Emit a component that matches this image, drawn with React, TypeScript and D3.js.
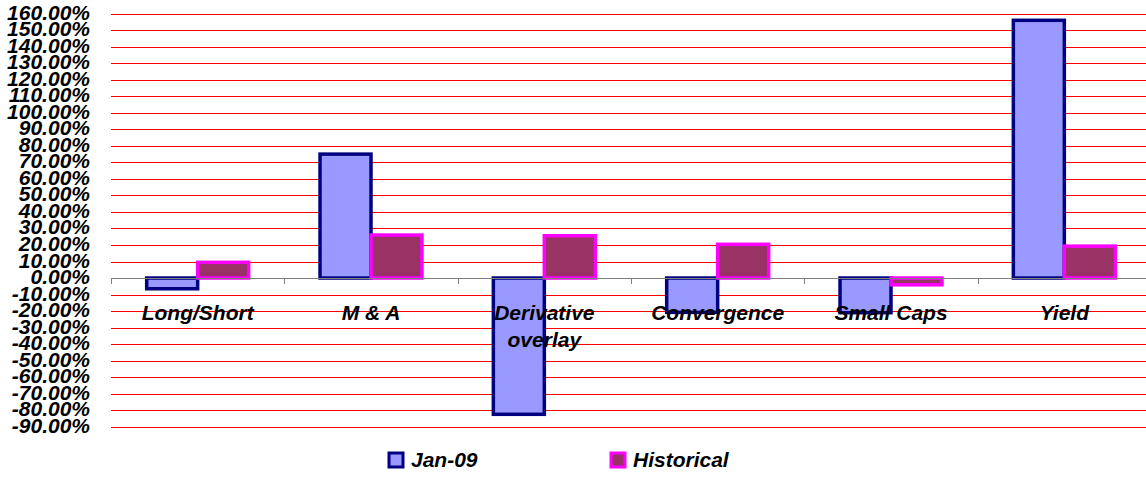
import React from 'react';
import { scaleBand, scaleLinear, range } from 'd3';

const categories = ['Long/Short', 'M & A', 'Derivative overlay', 'Convergence', 'Small Caps', 'Yield'];
const seriesNames = ['Jan-09', 'Historical'];
const jan09 = [-6.5, 75, -82.5, -20.8, -21, 156];
const historical = [9.5, 26, 25.6, 20.4, -4.1, 19.3];
const yTicks = range(-90, 161, 10);

const colors = {
  'Jan-09': { fill: '#9999FF', stroke: '#000080' },
  'Historical': { fill: '#993366', stroke: '#FF00FF' },
};

const W = 1146;
const H = 477;
const left = 111;
const right = 1151;
const font = '"Liberation Sans", Arial, sans-serif';

export default function App() {
  const x = scaleBand<string>().domain(categories).range([left, right]).paddingInner(0).paddingOuter(0);
  const bw = x.bandwidth();
  const barW = bw / 3.4;
  const gap = bw - 2 * barW;
  const xs = scaleBand<string>().domain(seriesNames).range([gap / 2, bw - gap / 2]);
  const y = scaleLinear().domain([-90, 160]).range([426.7, 13.7]);

  const data = [jan09, historical];

  return (
    <div style={{ position: 'absolute', left: 0, top: 0 }}>
      <svg width={W} height={H} style={{ display: 'block', background: '#fff' }}>
        {/* gridlines */}
        {yTicks.filter(t => t !== 0).map(t => (
          <line key={t} x1={left} x2={W} y1={Math.round(y(t)) + 0.5} y2={Math.round(y(t)) + 0.5}
            stroke="#FF0000" strokeWidth={1} />
        ))}
        {/* y labels */}
        {yTicks.map(t => (
          <text key={'l' + t} x={90} y={y(t) + 6} textAnchor="end"
            fontFamily={font} fontSize={21} fontWeight="bold" fontStyle="italic" fill="#000">
            {t.toFixed(2) + '%'}
          </text>
        ))}
        {/* bars */}
        {categories.map((c, i) => (
          <g key={c} transform={`translate(${x(c)},0)`}>
            {seriesNames.map((s, k) => {
              const v = data[k][i];
              const y0 = y(0);
              const y1 = y(v);
              return (
                <rect key={s} x={xs(s)} y={Math.min(y0, y1)} width={barW} height={Math.abs(y1 - y0)}
                  fill={colors[s].fill} stroke={colors[s].stroke} strokeWidth={3.5} />
              );
            })}
          </g>
        ))}
        {/* zero axis */}
        <line x1={left} x2={W} y1={Math.round(y(0)) + 0.5} y2={Math.round(y(0)) + 0.5} stroke="#808080" strokeWidth={1} />
        {range(categories.length + 1).map(i => {
          const tx = Math.round(left + i * bw) + 0.5;
          return <line key={'t' + i} x1={tx} x2={tx} y1={y(0)} y2={y(0) + 6} stroke="#808080" strokeWidth={1} />;
        })}
        {/* category labels */}
        {categories.map(c => {
          const cx = (x(c) as number) + bw / 2;
          const lines = c === 'Derivative overlay' ? ['Derivative', 'overlay'] : [c];
          return (
            <text key={'c' + c} x={cx} y={320} textAnchor="middle"
              fontFamily={font} fontSize={21} fontWeight="bold" fontStyle="italic" fill="#000">
              {lines.map((ln, j) => (
                <tspan key={j} x={cx} dy={j === 0 ? 0 : 27}>{ln}</tspan>
              ))}
            </text>
          );
        })}
        {/* legend */}
        {seriesNames.map((s, k) => {
          const lx = k === 0 ? 389 : 611;
          return (
            <g key={'lg' + s}>
              <rect x={lx} y={453} width={14} height={14} fill={colors[s].fill} stroke={colors[s].stroke} strokeWidth={3} />
              <text x={lx + 22} y={467} fontFamily={font} fontSize={21} fontWeight="bold" fontStyle="italic" fill="#000">{s}</text>
            </g>
          );
        })}
      </svg>
    </div>
  );
}
